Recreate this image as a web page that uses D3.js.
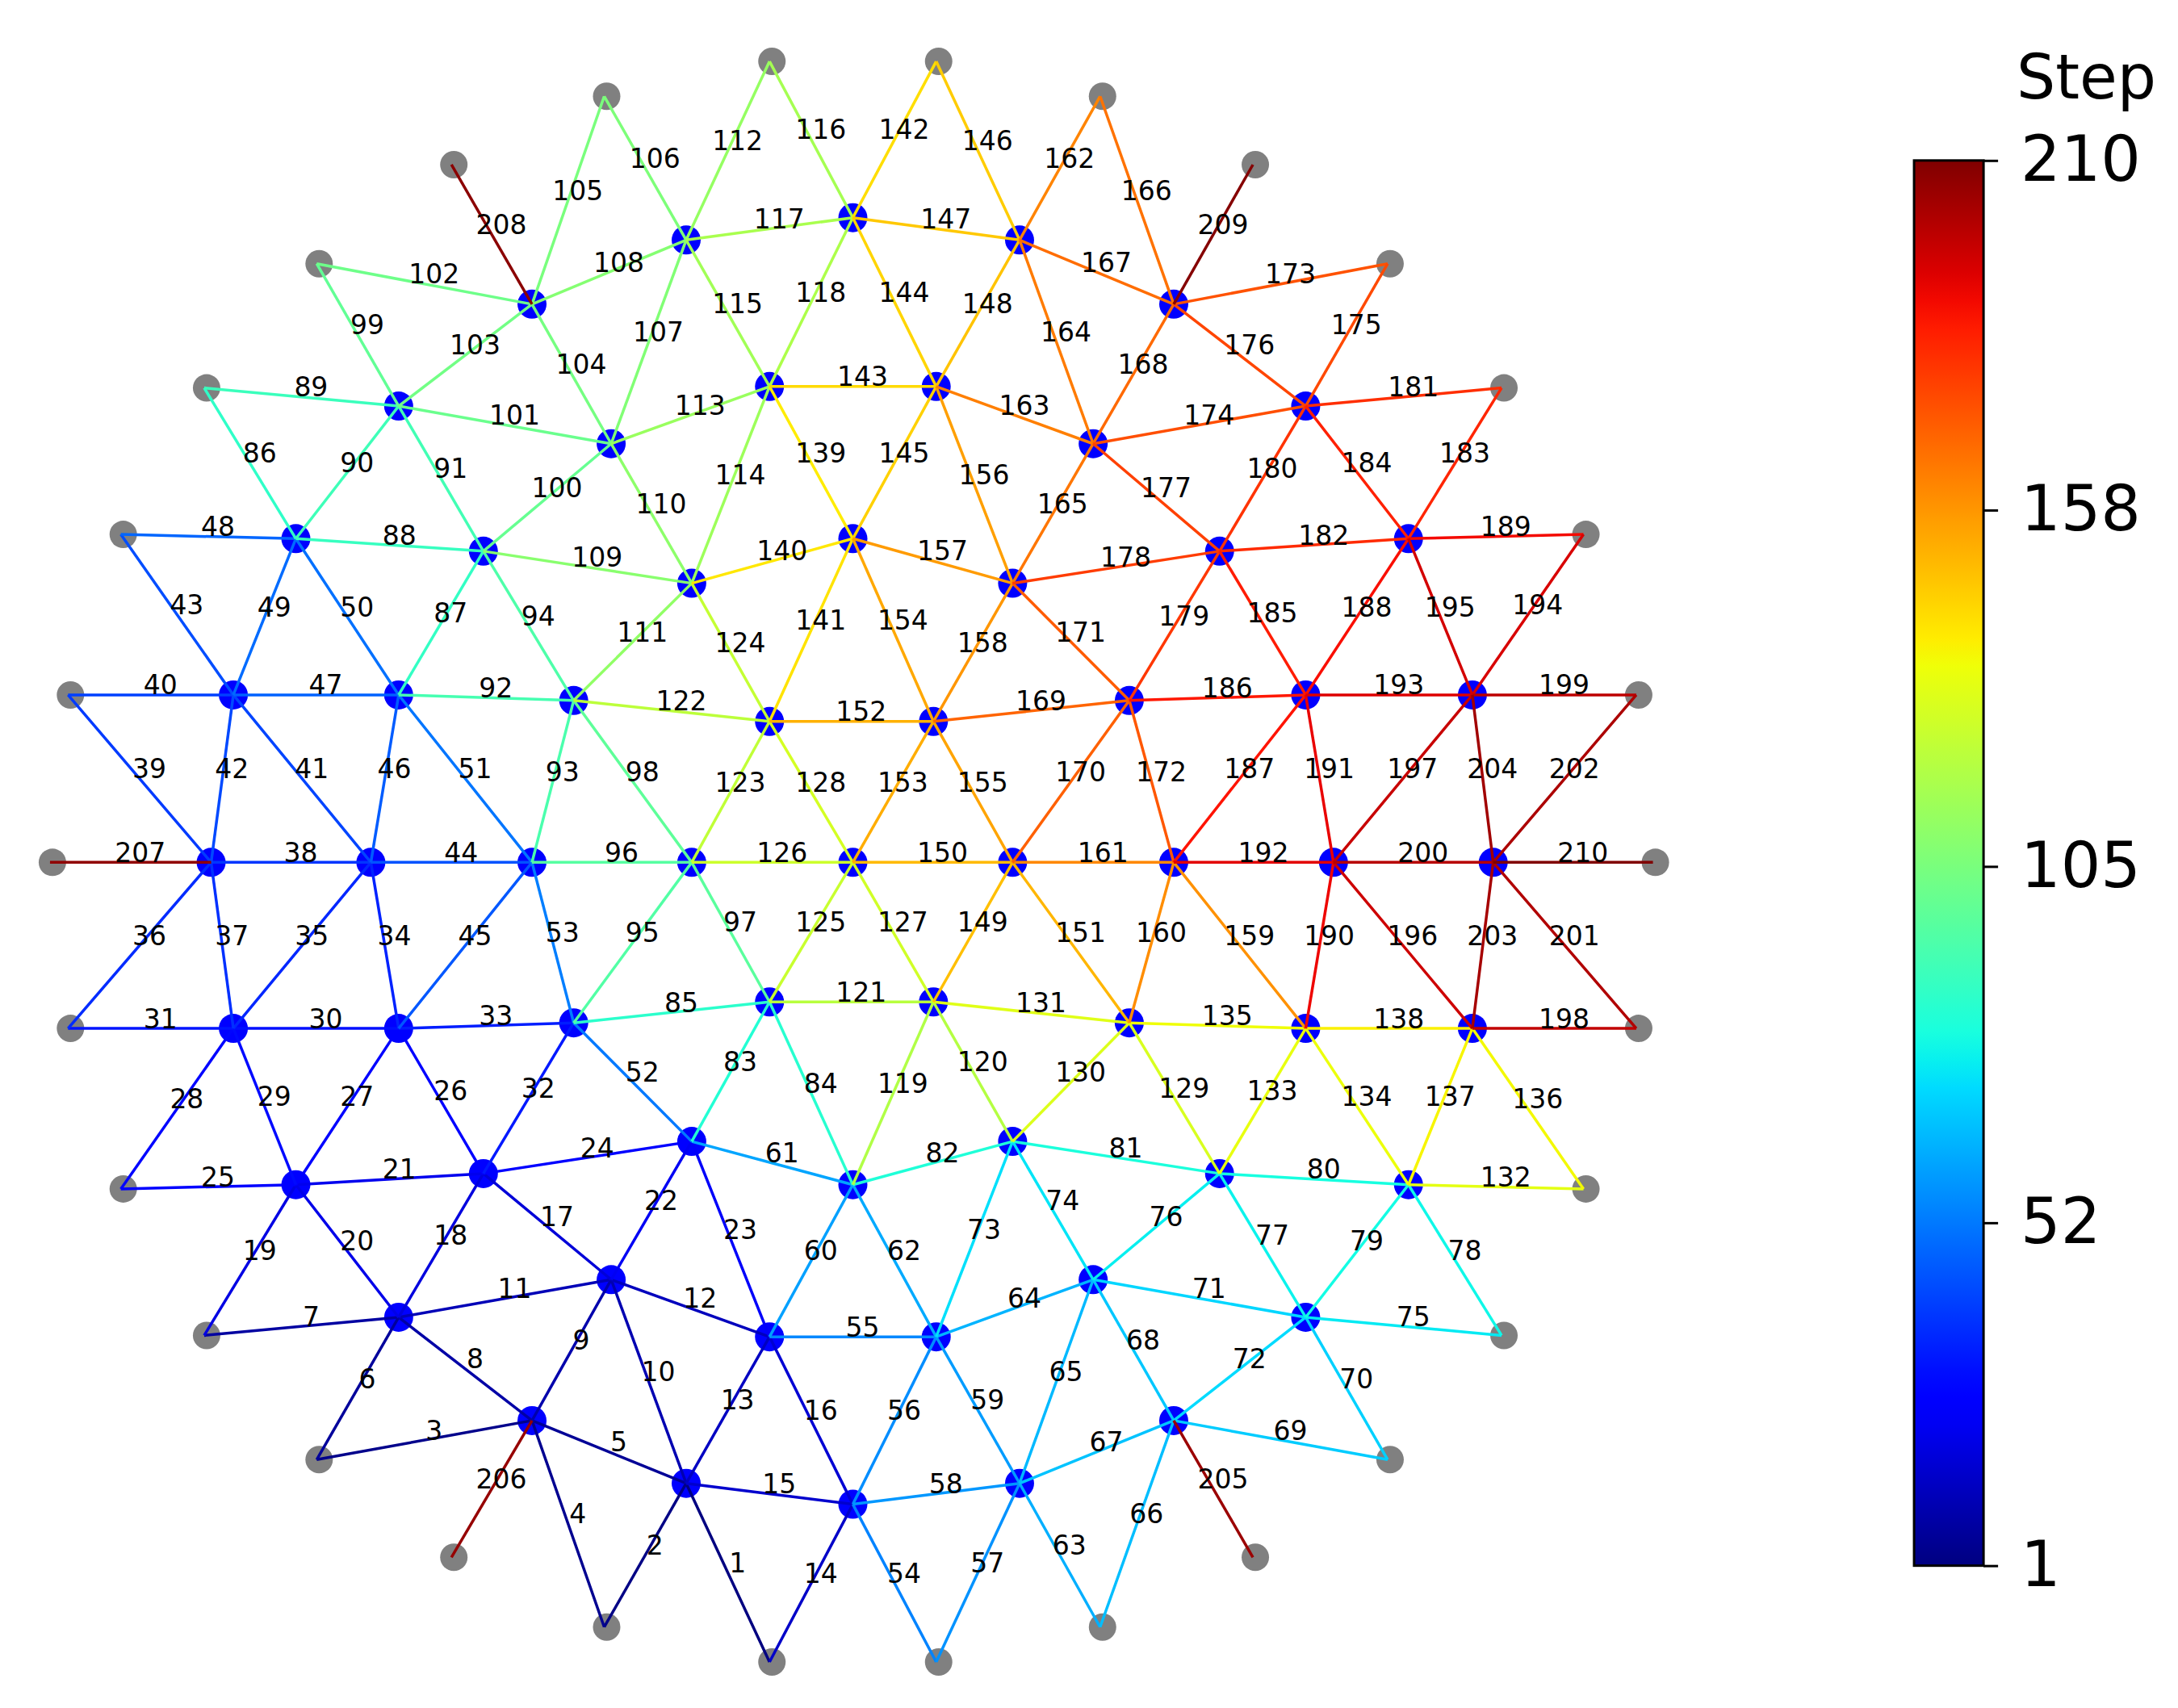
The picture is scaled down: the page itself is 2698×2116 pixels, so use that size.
<!DOCTYPE html>
<html><head><meta charset="utf-8">
<script src="https://cdn.jsdelivr.net/npm/d3@7"></script>
<style>body{margin:0;background:#fff}</style>
</head><body>
<script>
// node positions (reference units)
const interiorNodes = [
["a1",383,1018],["a2",494,1063],["a3",614,1078],["a4",734,1063],["a5",845,1018],
["b1",287,944],["b2",440,917],["b3",554,958],["b4",674,958],["b5",787,917],["b6",940,944],
["c1",213,849],["c2",348,841],["c3",498,818],["c4",614,849],["c5",729,818],["c6",878,841],["c7",1014,849],
["d1",168,737],["d2",287,737],["d3",413,733],["d4",554,718],["d5",672,718],["d6",813,733],["d7",940,737],["d8",1060,737],
["e1",152,618],["e2",267,618],["e3",383,618],["e4",498,618],["e5",614,618],["e6",729,618],["e7",845,618],["e8",960,618],["e9",1075,618],
["f1",168,498],["f2",287,498],["f3",413,502],["f4",554,517],["f5",672,517],["f6",813,502],["f7",940,498],["f8",1060,498],
["g1",213,386],["g2",348,395],["g3",498,418],["g4",614,386],["g5",729,418],["g6",878,395],["g7",1014,386],
["h1",287,291],["h2",440,318],["h3",554,277],["h4",674,277],["h5",787,318],["h6",940,291],
["i1",383,218],["i2",494,172],["i3",614,156],["i4",734,172],["i5",845,218]];
const boundaryNodes = [
["L",36,618],["R",1190,618],["p1",49,498],["p2",49,737],["p3",1178,498],["p4",1178,737],
["q1",87,383],["q2",87,852],["q3",1140,383],["q4",1140,852],
["s1",147,278],["s2",147,957],["s3",1081,278],["s4",1081,957],
["t1",228,189],["t2",228,1046],["t3",999,189],["t4",999,1046],
["u1",325,118],["u2",325,1116],["u3",902,118],["u4",902,1116],
["v1",435,69],["v2",435,1166],["v3",792,69],["v4",792,1166],
["w1",554,44],["w2",554,1191],["w3",674,44],["w4",674,1191]];
// edges: [step, node, node]
const edges = [
[1,"a2","w2"],[2,"a2","v2"],[3,"a1","t2"],[4,"a1","v2"],[5,"a1","a2"],[6,"b1","t2"],[7,"b1","s2"],[8,"b1","a1"],[9,"b2","a1"],[10,"b2","a2"],
[11,"b1","b2"],[12,"b2","b3"],[13,"b3","a2"],[14,"a3","w2"],[15,"a2","a3"],[16,"b3","a3"],[17,"c2","b2"],[18,"c2","b1"],[19,"c1","s2"],[20,"c1","b1"],
[21,"c1","c2"],[22,"c3","b2"],[23,"c3","b3"],[24,"c2","c3"],[25,"c1","q2"],[26,"d2","c2"],[27,"d2","c1"],[28,"d1","q2"],[29,"d1","c1"],[30,"d1","d2"],
[31,"d1","p2"],[32,"d3","c2"],[33,"d2","d3"],[34,"e2","d2"],[35,"e2","d1"],[36,"e1","p2"],[37,"e1","d1"],[38,"e1","e2"],[39,"e1","p1"],[40,"f1","p1"],
[41,"e2","f1"],[42,"e1","f1"],[43,"f1","q1"],[44,"e2","e3"],[45,"e3","d2"],[46,"e2","f2"],[47,"f1","f2"],[48,"g1","q1"],[49,"g1","f1"],[50,"g1","f2"],
[51,"e3","f2"],[52,"d3","c3"],[53,"e3","d3"],[54,"a3","w4"],[55,"b3","b4"],[56,"a3","b4"],[57,"a4","w4"],[58,"a3","a4"],[59,"b4","a4"],[60,"c4","b3"],
[61,"c3","c4"],[62,"c4","b4"],[63,"a4","v4"],[64,"b4","b5"],[65,"b5","a4"],[66,"a5","v4"],[67,"a4","a5"],[68,"b5","a5"],[69,"a5","t4"],[70,"b6","t4"],
[71,"b5","b6"],[72,"b6","a5"],[73,"c5","b4"],[74,"c5","b5"],[75,"b6","s4"],[76,"c6","b5"],[77,"c6","b6"],[78,"c7","s4"],[79,"c7","b6"],[80,"c6","c7"],
[81,"c5","c6"],[82,"c4","c5"],[83,"d4","c3"],[84,"d4","c4"],[85,"d3","d4"],[86,"s1","g1"],[87,"g2","f2"],[88,"g1","g2"],[89,"s1","h1"],[90,"h1","g1"],
[91,"h1","g2"],[92,"f2","f3"],[93,"f3","e3"],[94,"g2","f3"],[95,"e4","d3"],[96,"e3","e4"],[97,"e4","d4"],[98,"f3","e4"],[99,"t1","h1"],[100,"h2","g2"],
[101,"h1","h2"],[102,"t1","i1"],[103,"i1","h1"],[104,"i1","h2"],[105,"v1","i1"],[106,"v1","i2"],[107,"i2","h2"],[108,"i1","i2"],[109,"g2","g3"],[110,"h2","g3"],
[111,"g3","f3"],[112,"i2","w1"],[113,"h2","h3"],[114,"h3","g3"],[115,"i2","h3"],[116,"w1","i3"],[117,"i2","i3"],[118,"i3","h3"],[119,"d5","c4"],[120,"d5","c5"],
[121,"d4","d5"],[122,"f3","f4"],[123,"f4","e4"],[124,"g3","f4"],[125,"e5","d4"],[126,"e4","e5"],[127,"e5","d5"],[128,"f4","e5"],[129,"d6","c6"],[130,"c5","d6"],
[131,"d5","d6"],[132,"c7","q4"],[133,"d7","c6"],[134,"d7","c7"],[135,"d6","d7"],[136,"d8","q4"],[137,"d8","c7"],[138,"d7","d8"],[139,"h3","g4"],[140,"g3","g4"],
[141,"g4","f4"],[142,"i3","w3"],[143,"h3","h4"],[144,"i3","h4"],[145,"h4","g4"],[146,"w3","i4"],[147,"i3","i4"],[148,"i4","h4"],[149,"e6","d5"],[150,"e5","e6"],
[151,"e6","d6"],[152,"f4","f5"],[153,"f5","e5"],[154,"g4","f5"],[155,"f5","e6"],[156,"h4","g5"],[157,"g4","g5"],[158,"g5","f5"],[159,"e7","d7"],[160,"e7","d6"],
[161,"e6","e7"],[162,"i4","v3"],[163,"h4","h5"],[164,"i4","h5"],[165,"h5","g5"],[166,"v3","i5"],[167,"i4","i5"],[168,"i5","h5"],[169,"f5","f6"],[170,"f6","e6"],
[171,"g5","f6"],[172,"f6","e7"],[173,"i5","t3"],[174,"h5","h6"],[175,"t3","h6"],[176,"i5","h6"],[177,"h5","g6"],[178,"g5","g6"],[179,"g6","f6"],[180,"h6","g6"],
[181,"h6","s3"],[182,"g6","g7"],[183,"s3","g7"],[184,"h6","g7"],[185,"g6","f7"],[186,"f6","f7"],[187,"f7","e7"],[188,"g7","f7"],[189,"g7","q3"],[190,"e8","d7"],
[191,"f7","e8"],[192,"e7","e8"],[193,"f7","f8"],[194,"q3","f8"],[195,"g7","f8"],[196,"e8","d8"],[197,"e8","f8"],[198,"d8","p4"],[199,"f8","p3"],[200,"e8","e9"],
[201,"e9","p4"],[202,"e9","p3"],[203,"e9","d8"],[204,"e9","f8"],[205,"a5","u4"],[206,"a1","u2"],[207,"L","e1"],[208,"u1","i1"],[209,"i5","u3"],[210,"e9","R"]];
const colorTicks = [1,52,105,158,210];
const stepDomain = [1,210];

const W=2698,H=2116;
const x=d3.scaleLinear().domain([0,1568]).range([0,W]);
const y=d3.scaleLinear().domain([0,1224]).range([0,H]);
function jet(t){
  const seg=(pts)=>{for(let i=1;i<pts.length;i++){if(t<=pts[i][0]){const [x0,y0]=pts[i-1],[x1,y1]=pts[i];return y0+(y1-y0)*(t-x0)/(x1-x0);}}return pts[pts.length-1][1];};
  const r=seg([[0,0],[0.35,0],[0.66,1],[0.89,1],[1,0.5]]);
  const g=seg([[0,0],[0.125,0],[0.375,1],[0.64,1],[0.91,0],[1,0]]);
  const b=seg([[0,0.5],[0.11,1],[0.34,1],[0.65,0],[1,0]]);
  return d3.rgb(r*255,g*255,b*255).toString();
}
const cnorm=d3.scaleLinear().domain(stepDomain).range([0,1]);
const color=v=>jet(cnorm(v));
const pos={};
interiorNodes.concat(boundaryNodes).forEach(n=>pos[n[0]]=[x(n[1]),y(n[2])]);

const svg=d3.select("body").append("svg").attr("width",W).attr("height",H).style("font-family","DejaVu Sans");
svg.append("g").selectAll("circle").data(boundaryNodes).join("circle")
 .attr("cx",d=>x(d[1])+3).attr("cy",d=>y(d[2])).attr("r",17).attr("fill","#808080");
svg.append("g").selectAll("circle").data(interiorNodes).join("circle")
 .attr("cx",d=>x(d[1])).attr("cy",d=>y(d[2])).attr("r",18).attr("fill","#0000ff");
svg.append("g").selectAll("line").data(edges).join("line")
 .attr("x1",d=>pos[d[1]][0]).attr("y1",d=>pos[d[1]][1]).attr("x2",d=>pos[d[2]][0]).attr("y2",d=>pos[d[2]][1])
 .attr("stroke",d=>color(d[0])).attr("stroke-width",3.5);
svg.append("g").selectAll("text").data(edges).join("text")
 .attr("x",d=>(pos[d[1]][0]+pos[d[2]][0])/2+12).attr("y",d=>(pos[d[1]][1]+pos[d[2]][1])/2-12)
 .attr("text-anchor","middle").attr("dominant-baseline","central").attr("font-size",33).attr("fill","#000").text(d=>d[0]);

// colorbar
const cb={x0:x(1378),x1:x(1428),y0:y(115),y1:y(1122)};
const cy=d3.scaleLinear().domain(stepDomain).range([cb.y1,cb.y0]);
const defs=svg.append("defs");
const grad=defs.append("linearGradient").attr("id","jet").attr("x1",0).attr("y1",1).attr("x2",0).attr("y2",0);
d3.range(0,1.0001,0.02).forEach(t=>grad.append("stop").attr("offset",t).attr("stop-color",jet(t)));
svg.append("rect").attr("x",cb.x0).attr("y",cb.y0).attr("width",cb.x1-cb.x0).attr("height",cb.y1-cb.y0).attr("fill","url(#jet)").attr("stroke","#000").attr("stroke-width",3);
const ax=svg.append("g").attr("transform",`translate(${cb.x1},0)`).call(d3.axisRight(cy).tickValues(colorTicks).tickSize(18).tickPadding(28));
ax.select(".domain").remove();
ax.selectAll("line").attr("stroke-width",3);
ax.selectAll("text").attr("font-size",78).attr("font-family","DejaVu Sans").attr("fill","#000");
svg.append("text").attr("x",x(1502)).attr("y",y(55)).attr("text-anchor","middle").attr("dominant-baseline","central").attr("font-size",76).text("Step");
</script>
</body></html>
